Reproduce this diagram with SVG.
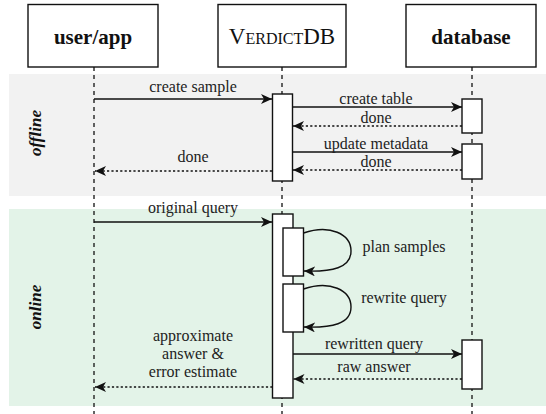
<svg xmlns="http://www.w3.org/2000/svg" width="546" height="414" viewBox="0 0 546 414">
<style>
.hdr{fill:#fff;stroke:#111;stroke-width:1.4}
.ht{font-family:"Liberation Serif",serif;font-size:21px;fill:#111;text-anchor:middle}
.life{stroke:#222;stroke-width:1.4;stroke-dasharray:4,4;fill:none}
.act{fill:#fff;stroke:#111;stroke-width:1.4}
.msg{stroke:#111;stroke-width:1.4;fill:none;marker-end:url(#ah)}
.ret{stroke:#111;stroke-width:1.4;fill:none;stroke-dasharray:2.2,2.2;marker-end:url(#ah)}
.lbl{font-family:"Liberation Serif",serif;font-size:16px;fill:#222;text-anchor:middle}
.sec{font-family:"Liberation Serif",serif;font-size:17px;font-weight:bold;font-style:italic;fill:#111;text-anchor:middle}
</style>
<defs>
<marker id="ah" markerUnits="userSpaceOnUse" markerWidth="12" markerHeight="10" refX="11" refY="5" orient="auto">
<path d="M0,0 L11,5 L0,10 L3,5 z" fill="#111"/>
</marker>
</defs>
<g id="bands">
<rect x="9" y="74" width="537" height="122" fill="#f2f2f2"/>
<rect x="9" y="209" width="537" height="197" fill="#e3f3e8"/>
<text class="sec" transform="translate(41,133) rotate(-90)">offline</text>
<text class="sec" transform="translate(41,307) rotate(-90)">online</text>
</g>
<g id="lifelines">
<line class="life" x1="94" y1="67" x2="94" y2="414"/>
<line class="life" x1="282" y1="67" x2="282" y2="414"/>
<line class="life" x1="472" y1="67" x2="472" y2="414"/>
</g>
<g id="node-user">
<rect class="hdr" x="28" y="4.5" width="130" height="62.5"/>
<text class="ht" x="93" y="44" font-weight="bold">user/app</text>
</g>
<g id="node-verdictdb">
<rect class="hdr" x="218" y="4.5" width="128" height="62.5"/>
<text class="ht" x="282" y="44" font-size="23" style="font-size:23px;font-variant:small-caps">VerdictDB</text>
</g>
<g id="node-database">
<rect class="hdr" x="406" y="4.5" width="130" height="62.5"/>
<text class="ht" x="471" y="44" font-weight="bold">database</text>
</g>
<g id="activations">
<rect class="act" x="272.5" y="94" width="20" height="87"/>
<rect class="act" x="462" y="99" width="20" height="34"/>
<rect class="act" x="462" y="144" width="20" height="35"/>
<rect class="act" x="272.5" y="214" width="20.5" height="184"/>
<rect class="act" x="283" y="228" width="20.5" height="48"/>
<rect class="act" x="283" y="284" width="20.5" height="48"/>
<rect class="act" x="462" y="340" width="20" height="49"/>
</g>
<g id="connectors">
<line class="msg" x1="94" y1="99" x2="272" y2="99"/>
<line class="msg" x1="292.5" y1="107" x2="462" y2="107"/>
<line class="ret" x1="462" y1="126" x2="293" y2="126"/>
<line class="msg" x1="292.5" y1="152" x2="462" y2="152"/>
<line class="ret" x1="462" y1="170" x2="293" y2="170"/>
<line class="ret" x1="272" y1="171" x2="95" y2="171"/>
<line class="msg" x1="94" y1="222" x2="272" y2="222"/>
<path class="msg" d="M303.5,233 C330,224 351,234 351,251 C351,268 332,272 304,271"/>
<path class="msg" d="M303.5,289 C330,280 351,290 351,307 C351,324 332,328 304,327"/>
<line class="msg" x1="293" y1="354" x2="462" y2="354"/>
<line class="ret" x1="462" y1="379" x2="293.5" y2="379"/>
<line class="ret" x1="272.5" y1="387" x2="95" y2="387"/>
</g>
<g id="labels">
<text class="lbl" x="193" y="92">create sample</text>
<text class="lbl" x="376" y="104">create table</text>
<text class="lbl" x="376" y="123">done</text>
<text class="lbl" x="376" y="149">update metadata</text>
<text class="lbl" x="376" y="167">done</text>
<text class="lbl" x="193" y="162">done</text>
<text class="lbl" x="193" y="213">original query</text>
<text class="lbl" x="404" y="252">plan samples</text>
<text class="lbl" x="404" y="303">rewrite query</text>
<text class="lbl" x="374" y="349">rewritten query</text>
<text class="lbl" x="374" y="372">raw answer</text>
<text class="lbl" x="193" y="341">approximate</text>
<text class="lbl" x="193" y="359">answer &amp;</text>
<text class="lbl" x="193" y="377">error estimate</text>
</g>
</svg>
